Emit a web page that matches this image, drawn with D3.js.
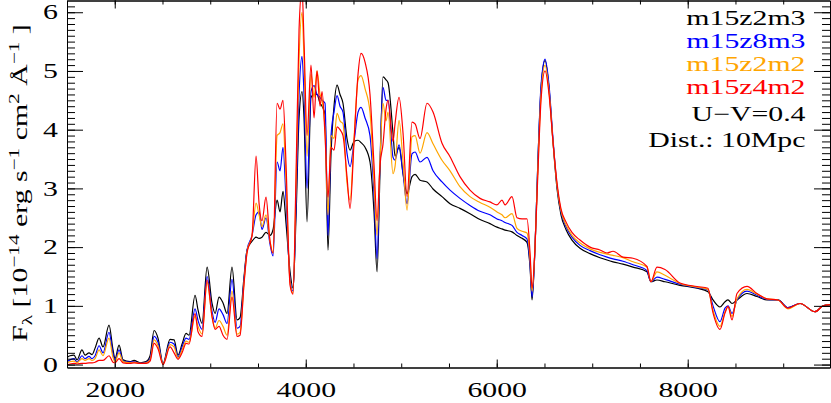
<!DOCTYPE html>
<html>
<head>
<meta charset="utf-8">
<script src="https://cdn.jsdelivr.net/npm/d3@7"></script>
<style>
  body { margin: 0; background: #fff; }
  text { font-family: "Liberation Serif", "DejaVu Serif", serif; }
</style>
</head>
<body>
<svg id="svg" width="831" height="403"></svg>
<script>
// wavelength grid (Angstrom)
const wave = [
  1500,1532,1574,1605,1657,1689,1731,1762,1794,1836,
  1877,1940,1982,2003,2045,2087,2160,2202,2265,2328,
  2370,2412,2453,2506,2579,2621,2663,2705,2747,2778,
  2841,2872,2914,2967,3019,3051,3092,3134,3176,3228,
  3281,3312,3354,3385,3438,3480,3511,3542,3584,3626,
  3658,3700,3731,3762,3794,3836,3867,3898,3930,3961,
  3982,4014,4055,4087,4118,4150,4171,4202,4233,4265,
  4296,4328,4359,4390,4432,4464,4506,4548,4579,4621,
  4673,4715,4747,4778,4809,4841,4862,4914,4935,4977,
  5019,5061,5113,5145,5197,5270,5333,5427,5511,5615,
  5720,5825,5929,6003,6055,6087,6160,6212,6265,6317,
  6349,6370,6401,6432,6464,6506,6548,6589,6631,6673,
  6725,6788,6872,6977,7081,7155,7218,7322,7427,7573,
  7615,7678,7762,7919,8097,8212,8265,8338,8391,8422,
  8464,8516,8621,8725,8830,8946,9050,9176,9333,9417,
  9490];

// F_lambda in 1e-14 erg/s/cm2/A
const m15z2m3 = [
  .12,.15,.16,.08,.25,.16,.20,.17,.28,.45,
  .30,.67,.25,.10,.33,.08,.05,.07,.03,.05,
  .15,.58,.45,.02,.43,.42,.16,.35,.53,.50,
  1.18,.93,.70,1.66,1.04,.87,1.15,1.05,.87,1.66,
  .76,.80,1.50,1.95,2.10,2.17,2.15,2.17,2.25,2.20,
  2.30,2.80,2.60,2.95,2.40,1.58,1.30,2.50,4.20,4.65,
  4.20,2.43,4.55,4.60,4.60,4.45,4.40,4.25,1.95,3.60,
  4.40,4.76,4.60,4.45,3.85,3.65,3.80,3.82,3.78,3.70,
  3.45,2.60,1.58,3.30,4.90,4.85,4.80,3.94,3.55,3.70,
  3.25,2.91,3.20,3.24,3.14,3.11,2.99,2.86,2.74,2.66,
  2.57,2.47,2.40,2.34,2.31,2.29,2.26,2.20,2.15,2.08,
  1.66,1.10,2.00,3.50,4.70,5.18,4.70,3.80,3.00,2.55,
  2.30,2.12,1.98,1.89,1.82,1.78,1.75,1.71,1.66,1.58,
  1.41,1.44,1.41,1.35,1.30,1.24,1.10,0.98,1.07,1.10,
  1.04,1.10,1.21,1.16,1.10,1.10,0.97,1.04,0.90,1.00,
  1.02];

const m15z8m3 = [
  .05,.08,.10,.04,.15,.10,.14,.10,.15,.32,
  .20,.55,.18,.07,.25,.06,.04,.05,.02,.04,
  .10,.48,.38,.01,.38,.35,.13,.30,.45,.43,
  .95,.75,.60,1.50,.90,.72,.95,.85,.70,1.45,
  .62,.65,1.45,1.95,2.20,2.55,2.60,2.30,2.50,2.05,
  1.85,3.45,3.30,3.70,2.80,1.45,1.25,2.70,4.60,5.25,
  4.60,3.00,4.65,4.75,4.60,4.55,4.50,4.45,2.20,3.90,
  4.30,4.58,4.40,4.30,3.60,3.37,3.80,4.30,4.38,4.20,
  3.90,2.90,1.80,3.50,4.72,4.50,4.50,3.53,3.48,3.74,
  3.25,2.74,3.59,3.62,3.45,3.53,3.30,3.11,2.97,2.83,
  2.71,2.61,2.55,2.48,2.45,2.42,2.37,2.25,2.20,2.14,
  1.70,1.15,2.00,3.50,4.75,5.20,4.75,3.85,3.05,2.60,
  2.35,2.17,2.03,1.94,1.87,1.83,1.80,1.76,1.70,1.60,
  1.41,1.49,1.45,1.37,1.31,1.27,1.00,0.73,0.96,1.00,
  0.87,1.10,1.25,1.18,1.11,1.10,0.97,1.04,0.90,1.00,
  1.02];

const m15z2m2 = [
  .03,.05,.06,.03,.10,.07,.10,.07,.10,.25,
  .15,.45,.12,.05,.20,.05,.03,.04,.02,.03,
  .08,.42,.32,.01,.34,.30,.11,.25,.40,.38,
  .82,.65,.52,1.40,.82,.62,.75,.65,.50,1.25,
  .52,.55,1.40,1.92,2.20,2.75,2.55,2.35,2.55,2.10,
  1.90,3.90,3.95,4.10,3.10,1.40,1.22,3.00,5.20,6.00,
  5.20,3.55,4.95,4.55,5.00,4.60,4.50,4.00,2.55,3.90,
  3.85,4.28,4.15,4.10,3.10,2.80,3.85,4.85,4.92,4.70,
  4.30,3.10,2.20,3.50,4.45,4.15,4.30,3.25,3.37,4.16,
  3.45,2.63,3.88,3.90,3.60,3.95,3.76,3.48,3.30,3.03,
  2.86,2.76,2.68,2.60,2.55,2.50,2.57,2.32,2.27,2.24,
  1.80,1.25,2.00,3.40,4.60,5.10,4.65,3.80,3.05,2.62,
  2.38,2.20,2.07,1.97,1.91,1.88,1.86,1.82,1.75,1.66,
  1.41,1.58,1.52,1.38,1.32,1.28,0.92,0.65,0.90,0.98,
  0.82,1.12,1.28,1.20,1.12,1.10,0.95,1.04,0.90,1.00,
  1.02];

const m15z4m2 = [
  .00,.01,.02,.01,.02,.02,.03,.03,.04,.07,
  .07,.15,.04,.03,.10,.03,.02,.03,.02,.02,
  .06,.36,.27,.00,.30,.20,.09,.20,.36,.35,
  .87,.56,.48,1.44,.81,.60,.65,.50,.43,1.15,
  .48,.50,1.38,1.90,2.20,3.55,2.75,2.45,2.85,2.10,
  1.90,4.45,4.35,4.50,3.40,1.35,1.20,3.20,5.70,6.40,
  5.50,3.90,5.10,4.20,5.00,4.40,4.65,3.90,2.85,3.70,
  3.65,4.05,4.00,3.90,3.20,2.66,3.80,4.95,5.30,5.15,
  4.60,3.40,2.45,3.40,3.75,4.35,4.50,3.80,4.10,4.55,
  3.94,2.86,4.13,4.10,3.85,4.45,4.30,3.77,3.54,3.20,
  2.97,2.83,2.77,2.72,2.80,2.72,2.86,2.50,2.48,2.48,
  1.90,1.30,2.00,3.30,4.50,5.00,4.60,3.80,3.10,2.65,
  2.43,2.25,2.12,2.00,1.95,1.90,1.93,1.83,1.81,1.67,
  1.41,1.66,1.62,1.39,1.33,1.30,0.88,0.60,0.88,0.99,
  0.76,1.21,1.33,1.21,1.12,1.10,0.96,1.04,0.90,1.00,
  1.02];

const seriesNames = ["m15z2m3", "m15z8m3", "m15z2m2", "m15z4m2"];
const seriesValues = [m15z2m3, m15z8m3, m15z2m2, m15z4m2];
const seriesColors = ["#000000", "#0000ff", "#ffa500", "#ff0000"];
const notes = ["U\u2212V=0.4", "Dist.: 10Mpc"];
const xMajorTicks = [2000, 4000, 6000, 8000];
const xMinorTicks = d3.range(1500, 9500, 500);
const yMajorTicks = [0, 1, 2, 3, 4, 5, 6];
const yMinorTicks = d3.range(0, 62).map(i => i / 10);

// horizontal stretch to mimic the wide vector font
const SX = 1.42;

let svg = d3.select("svg");
let plotLeft = 67, plotRight = 830, plotTop = 0.5, plotBottom = 367.5;

let x = d3.scaleLinear().domain([1500, 9490]).range([plotLeft, plotRight]);
let y = d3.scaleLinear().domain([-0.05, 6.2]).range([plotBottom, plotTop]);

svg.append("defs").append("clipPath").attr("id", "plot")
  .append("rect").attr("x", plotLeft).attr("y", plotTop)
  .attr("width", plotRight - plotLeft).attr("height", plotBottom - plotTop);

let line = d3.line()
  .x(d => x(d[0]))
  .y(d => y(d[1]))
  .curve(d3.curveMonotoneX);

let g = svg.append("g").attr("clip-path", "url(#plot)");
seriesValues.forEach((vals, i) => {
  g.append("path")
   .datum(wave.map((w, j) => [w, vals[j]]))
   .attr("fill", "none")
   .attr("stroke", seriesColors[i])
   .attr("stroke-width", 1.2)
   .attr("stroke-linejoin", "round")
   .attr("d", line);
});

function styleAxis(sel) {
  sel.selectAll("path, line").attr("stroke", "#000").attr("stroke-width", 1);
  sel.selectAll("text").attr("fill", "#000").attr("font-size", 21)
     .attr("font-family", "Liberation Serif, serif");
}

// bottom axis
svg.append("g").attr("transform", `translate(0,${plotBottom})`)
  .call(d3.axisBottom(x).tickValues(xMinorTicks).tickSize(-4).tickSizeOuter(0).tickFormat(""))
  .call(styleAxis);
let xb = svg.append("g").attr("transform", `translate(0,${plotBottom})`)
  .call(d3.axisBottom(x).tickValues(xMajorTicks).tickSize(-8).tickSizeOuter(0).tickPadding(15).tickFormat(d3.format("d")))
  .call(styleAxis);
xb.selectAll("text").attr("transform", `scale(${SX},1)`);

// top axis
svg.append("g").attr("transform", `translate(0,${plotTop})`)
  .call(d3.axisTop(x).tickValues(xMinorTicks).tickSize(-4).tickSizeOuter(0).tickFormat(""))
  .call(styleAxis);
svg.append("g").attr("transform", `translate(0,${plotTop})`)
  .call(d3.axisTop(x).tickValues(xMajorTicks).tickSize(-8).tickSizeOuter(0).tickFormat(""))
  .call(styleAxis);

// left axis
svg.append("g").attr("transform", `translate(${plotLeft},0)`)
  .call(d3.axisLeft(y).tickValues(yMinorTicks).tickSize(-8).tickSizeOuter(0).tickFormat(""))
  .call(styleAxis);
let yl = svg.append("g").attr("transform", `translate(${plotLeft},0)`)
  .call(d3.axisLeft(y).tickValues(yMajorTicks).tickSize(-16).tickSizeOuter(0).tickPadding(9).tickFormat(d3.format("d")))
  .call(styleAxis);
yl.selectAll("text").attr("x", -9 / SX).attr("transform", `scale(${SX},1)`);

// right axis
svg.append("g").attr("transform", `translate(${plotRight},0)`)
  .call(d3.axisRight(y).tickValues(yMinorTicks).tickSize(-8).tickSizeOuter(0).tickFormat(""))
  .call(styleAxis);
svg.append("g").attr("transform", `translate(${plotRight},0)`)
  .call(d3.axisRight(y).tickValues(yMajorTicks).tickSize(-16).tickSizeOuter(0).tickFormat(""))
  .call(styleAxis);

// y axis title
let ylab = svg.append("text")
  .attr("transform", `translate(27,183) rotate(-90) scale(${SX},1)`)
  .attr("text-anchor", "middle")
  .attr("font-size", 21)
  .attr("fill", "#000");
ylab.append("tspan").text("F");
ylab.append("tspan").attr("dy", 5).attr("font-size", 15).text("\u03bb");
ylab.append("tspan").attr("dy", -5).text(" [10");
ylab.append("tspan").attr("dy", -8).attr("font-size", 15).text("\u221214");
ylab.append("tspan").attr("dy", 8).text(" erg s");
ylab.append("tspan").attr("dy", -8).attr("font-size", 15).text("\u22121");
ylab.append("tspan").attr("dy", 8).text(" cm");
ylab.append("tspan").attr("dy", -8).attr("font-size", 15).text("2");
ylab.append("tspan").attr("dy", 8).text(" \u00c5");
ylab.append("tspan").attr("dy", -8).attr("font-size", 15).text("\u22121");
ylab.append("tspan").attr("dy", 8).text(" ]");

// legend
let legendBase = [25, 48.3, 71, 94.3, 120.7, 146.7];
let legendItems = seriesNames.map((n, i) => ({ text: n, color: seriesColors[i] }))
  .concat(notes.map(n => ({ text: n, color: "#000" })));
svg.append("g").selectAll("text")
  .data(legendItems)
  .enter().append("text")
    .attr("x", 805.5 / SX)
    .attr("y", (d, i) => legendBase[i])
    .attr("transform", `scale(${SX},1)`)
    .attr("text-anchor", "end")
    .attr("font-size", 21)
    .attr("fill", d => d.color)
    .text(d => d.text);
</script>
</body>
</html>
